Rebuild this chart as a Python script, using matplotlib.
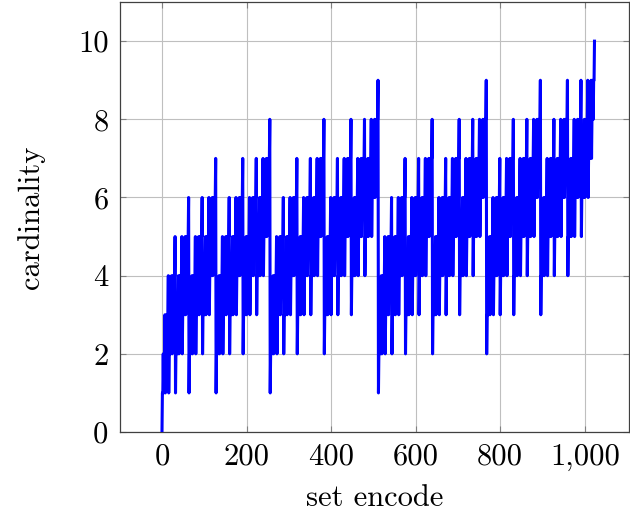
import numpy as np
import matplotlib
matplotlib.use("Agg")
import matplotlib.pyplot as plt
from matplotlib.ticker import FuncFormatter

# cardinality of each encoded set (hex digit per value, 16 per chunk)
card_rows = [
    "0112122312232334" "1223233423343445" "1223233423343445" "2334344534454556",
    "1223233423343445" "2334344534454556" "2334344534454556" "3445455645565667",
    "1223233423343445" "2334344534454556" "2334344534454556" "3445455645565667",
    "2334344534454556" "3445455645565667" "3445455645565667" "4556566756676778",
    "1223233423343445" "2334344534454556" "2334344534454556" "3445455645565667",
    "2334344534454556" "3445455645565667" "3445455645565667" "4556566756676778",
    "2334344534454556" "3445455645565667" "3445455645565667" "4556566756676778",
    "3445455645565667" "4556566756676778" "4556566756676778" "5667677867787889",
    "1223233423343445" "2334344534454556" "2334344534454556" "3445455645565667",
    "2334344534454556" "3445455645565667" "3445455645565667" "4556566756676778",
    "2334344534454556" "3445455645565667" "3445455645565667" "4556566756676778",
    "3445455645565667" "4556566756676778" "4556566756676778" "5667677867787889",
    "2334344534454556" "3445455645565667" "3445455645565667" "4556566756676778",
    "3445455645565667" "4556566756676778" "4556566756676778" "5667677867787889",
    "3445455645565667" "4556566756676778" "4556566756676778" "5667677867787889",
    "4556566756676778" "5667677867787889" "5667677867787889" "677878897889899a",
]
cardinality = [int(ch, 16) for ch in "".join(card_rows)]
set_encode = list(range(len(cardinality)))

x_ticks = [0, 200, 400, 600, 800, 1000]
y_ticks = [0, 2, 4, 6, 8, 10]

plt.rcParams["font.family"] = ["cmr10", "DejaVu Serif"]
plt.rcParams["mathtext.fontset"] = "cm"
plt.rcParams["axes.formatter.use_mathtext"] = True

FS = 22

fig = plt.figure(figsize=(6.3, 5.18), dpi=100)
ax = fig.add_axes([0.19, 0.166, 0.808, 0.830])

ax.plot(set_encode, cardinality, color="#0000ff", lw=2.2, zorder=3)

ax.set_xlim(-100, 1104)
ax.set_ylim(0, 11)
ax.set_xticks(x_ticks)
ax.set_yticks(y_ticks)
ax.xaxis.set_major_formatter(FuncFormatter(lambda v, p: f"{v:,.0f}"))
ax.yaxis.set_major_formatter(FuncFormatter(lambda v, p: f"{v:.0f}"))
ax.grid(True, color="#bfbfbf", lw=0.8, zorder=0)
ax.set_axisbelow(True)
ax.tick_params(direction="in", length=4, width=0.8, color="#808080",
               labelsize=FS, top=True, right=True, pad=8)
for s in ax.spines.values():
    s.set_linewidth(0.9)
    s.set_color("#404040")

ax.set_xlabel("set encode", fontsize=FS, labelpad=10)
ax.set_ylabel("cardinality", fontsize=FS, labelpad=24)

fig.savefig("out.png", dpi=100)
